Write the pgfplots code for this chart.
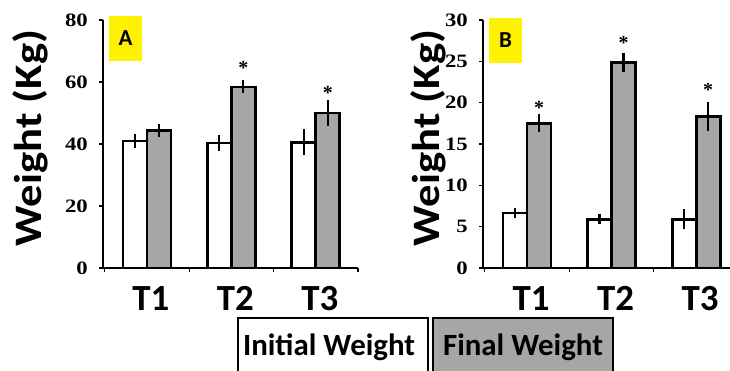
\documentclass[border=0pt]{standalone}
\usepackage{pgfplots}
\pgfplotsset{compat=1.18}
\usepackage{fontspec}
\setmainfont{Carlito}
\newfontfamily\numfont{Liberation Serif}
\definecolor{bargray}{HTML}{A6A6A6}
\pgfplotsset{
  panel/.style={
    scale only axis,
    axis lines=left,
    axis line style={-, line width=2.2bp},
    ybar=0pt, bar width=24bp,
    ymin=0,
    xmin=-0.52,
    xtick={0,1,2}, xticklabels={T1,T2,T3},
    major x tick style={draw=none},
    minor xtick={-0.5,0.5,1.5,2.5},
    minor x tick style={line width=1.2bp, black},
    y tick style={line width=1.2bp, black},
    tick align=outside,
    major tick length=4bp, minor tick length=4bp,
    /pgf/number format/assume math mode=true,
    xticklabel style={font=\fontsize{37}{37}\selectfont\bfseries, anchor=north, inner sep=0pt, yshift=-14bp, xshift=4bp},
    yticklabel style={font=\fontsize{19}{19}\selectfont\numfont\bfseries, anchor=east, inner sep=0pt, xshift=-11bp},
    yticklabel={\scalebox{1.2}[1]{\pgfmathprintnumber{\tick}}},
    every axis plot/.append style={draw=black, line width=2.8bp},
    error bars/y dir=both, error bars/y explicit,
    error bars/error mark=none,
    error bars/error bar style={line width=2.2bp, black},
    clip=false,
  }
}
\begin{document}
\begin{tikzpicture}[x=1bp,y=1bp]
\path[use as bounding box] (0,0) rectangle (730,370);
% Panel A
\begin{axis}[panel, at={(103bp,102bp)}, anchor=south west, width=255bp, height=248bp,
  xmax=2.5, ymax=80, ytick={0,20,40,60,80}]
\addplot[fill=white] coordinates {(0,41.0) +- (0,2.3) (1,40.3) +- (0,2.5) (2,40.6) +- (0,4.2)};
\addplot[fill=bargray] coordinates {(0,44.3) +- (0,2.0) (1,58.4) +- (0,2.1) (2,50.0) +- (0,4.2)};
\node[font=\fontsize{20}{20}\selectfont\numfont\bfseries, xshift=12bp] at (axis cs:1,64.5) {*};
\node[font=\fontsize{20}{20}\selectfont\numfont\bfseries, xshift=12bp] at (axis cs:2,56.4) {*};
\end{axis}
% Panel B
\begin{axis}[panel, at={(483bp,102bp)}, anchor=south west, width=247bp, height=248bp,
  xmax=2.4, ymax=30, ytick={0,5,10,15,20,25,30}]
\addplot[fill=white] coordinates {(0,6.65) +- (0,0.55) (1,5.9) +- (0,0.6) (2,5.9) +- (0,1.2)};
\addplot[fill=bargray] coordinates {(0,17.5) +- (0,1.1) (1,24.9) +- (0,1.15) (2,18.3) +- (0,1.75)};
\node[font=\fontsize{20}{20}\selectfont\numfont\bfseries, xshift=12bp] at (axis cs:0,19.4) {*};
\node[font=\fontsize{20}{20}\selectfont\numfont\bfseries, xshift=12bp] at (axis cs:1,27.2) {*};
\node[font=\fontsize{20}{20}\selectfont\numfont\bfseries, xshift=12bp] at (axis cs:2,21.5) {*};
\end{axis}
% y labels
\node[rotate=90, font=\fontsize{39}{39}\selectfont\bfseries, inner sep=0pt] at (30,232) {\scalebox{1.15}[1]{Weight (Kg)}};
\node[rotate=90, font=\fontsize{39}{39}\selectfont\bfseries, inner sep=0pt] at (428,232) {\scalebox{1.15}[1]{Weight (Kg)}};
% panel tags
\fill[yellow] (109,309) rectangle (142,354);
\node[font=\fontsize{23}{23}\selectfont\bfseries] at (125.5,331.5) {A};
\fill[yellow] (489,307) rectangle (522,352);
\node[font=\fontsize{23}{23}\selectfont\bfseries] at (505.5,329.5) {B};
% legend
\draw[line width=2bp, fill=white] (238,-10) rectangle (428,52);
\node[font=\fontsize{31}{31}\selectfont\bfseries, anchor=base, inner sep=0pt] at (329,15) {Initial Weight};
\draw[line width=2bp, fill=bargray] (433,-10) rectangle (613,52);
\node[font=\fontsize{31}{31}\selectfont\bfseries, anchor=base, inner sep=0pt] at (523,15) {Final Weight};
\end{tikzpicture}
\end{document}
